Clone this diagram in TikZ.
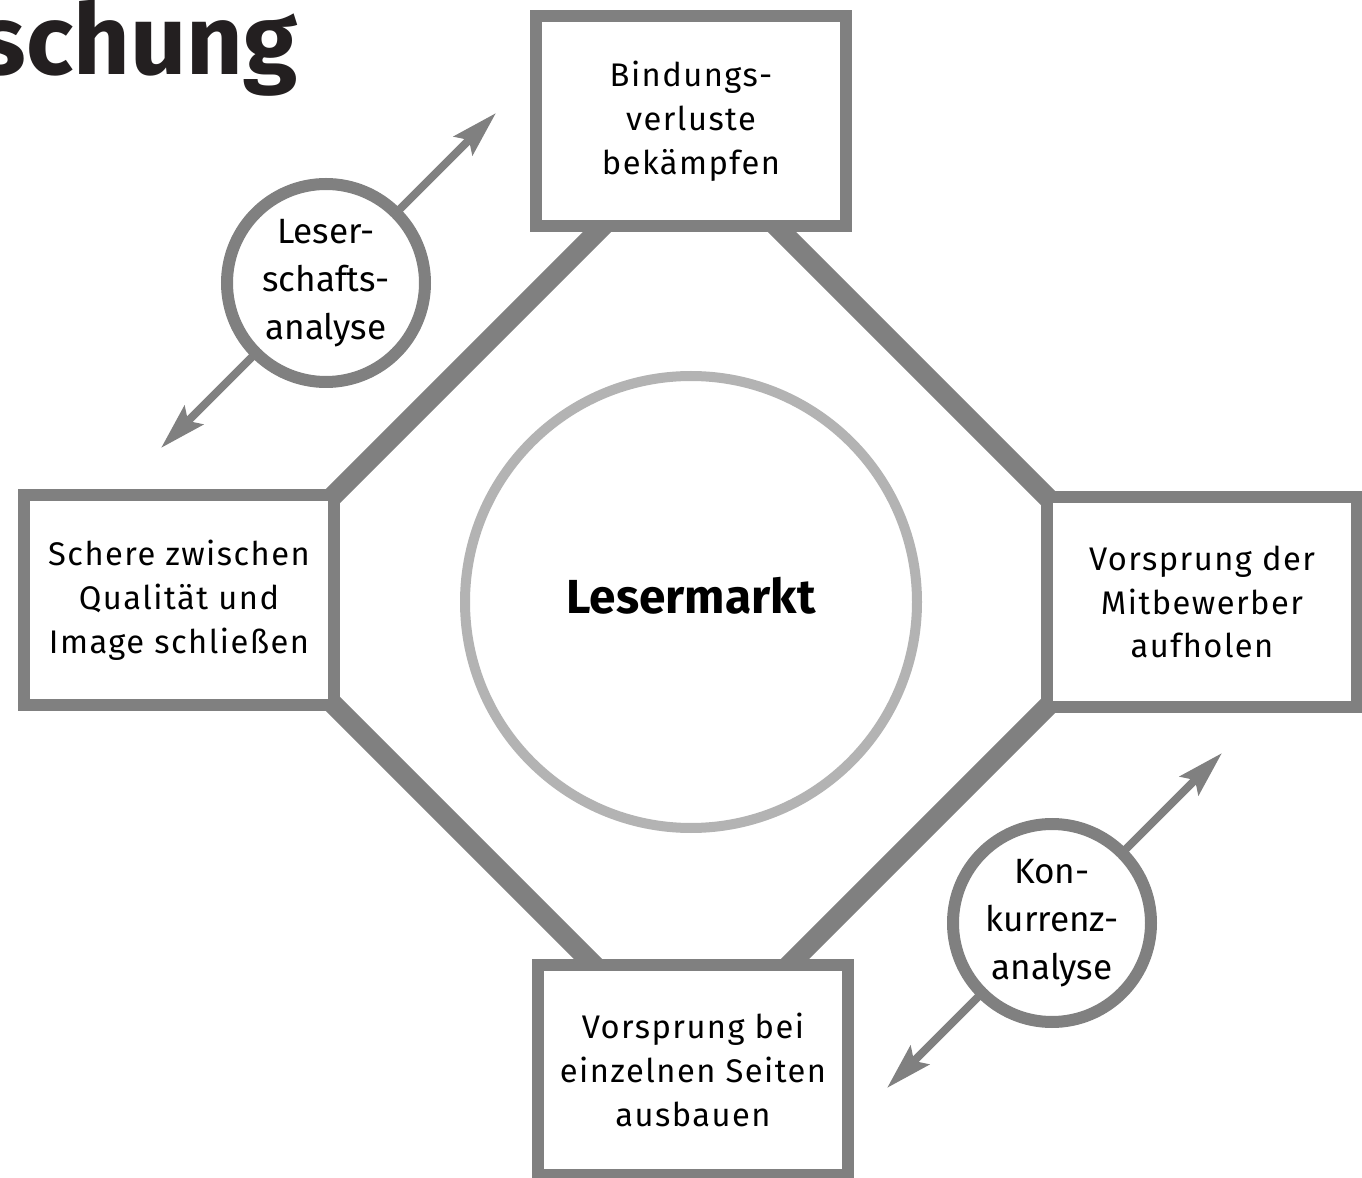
\documentclass[tikz,border=0pt]{standalone}
\usepackage{fontspec}
\setmainfont{Fira Sans}
\newfontfamily\spacedfont[LetterSpace=4.5]{Fira Sans}
\usepackage{tikz}
\usetikzlibrary{arrows.meta,calc,backgrounds}
\definecolor{ringgray}{HTML}{808080}
\definecolor{lightring}{HTML}{B3B3B3}
\definecolor{titleblack}{HTML}{231F20}

\begin{document}
\begin{tikzpicture}[
  goalbox/.style={draw=ringgray,line width=0.12cm,fill=white,minimum width=3.1cm,minimum height=2.1cm,
    align=center,inner sep=0pt,font=\spacedfont\fontsize{9.3}{12.5}\selectfont},
  toolcircle/.style={circle,draw=ringgray,line width=0.12cm,fill=white,minimum size=1.98cm,
    align=center,inner sep=0pt,font=\fontsize{10}{13.7}\selectfont},
  marketcircle/.style={circle,draw=lightring,line width=0.1cm,fill=white,minimum size=4.52cm,
    text depth=0.14cm,font=\fontsize{13.6}{16}\selectfont\bfseries},
  ringline/.style={ringgray,line width=0.2cm},
  biarrow/.style={ringgray,line width=0.08cm,{Stealth[length=4.6mm,width=2.6mm,inset=0.8mm]}-{Stealth[length=4.6mm,width=2.6mm,inset=0.8mm]}}
]
\clip (0,0) rectangle (13.62,11.77);
\node[anchor=base east,inner sep=0pt,text=titleblack,font=\fontsize{28}{30}\selectfont\bfseries] (title) at (2.98,11.02) {schung};

\node[marketcircle] (markt) at (6.91,5.75) {Lesermarkt};
\node[goalbox] (top) at (6.91,10.56) {Bindungs-\\verluste\\bekämpfen};
\node[goalbox] (left) at (1.79,5.77) {Schere zwischen\\Qualität und\\Image schließen};
\node[goalbox] (right) at (12.02,5.75) {Vorsprung der\\Mitbewerber\\aufholen};
\node[goalbox] (bottom) at (6.93,1.07) {Vorsprung bei\\einzelnen Seiten\\ausbauen};

\node[toolcircle] (leser) at (3.26,8.94) {Leser-\\schafts-\\analyse};
\node[toolcircle] (konk) at (10.52,2.54) {Kon-\\kurrenz-\\analyse};
\coordinate (leserA) at ($(leser)+(1.70,1.70)$);
\coordinate (leserB) at ($(leser)+(-1.65,-1.65)$);
\coordinate (konkA) at ($(konk)+(1.70,1.70)$);
\coordinate (konkB) at ($(konk)+(-1.65,-1.65)$);

\begin{scope}[on background layer]
\draw[ringline] ($(left.north east)+(-0.3,-0.3)$) -- ($(left.north east)+(3,3)$);
\draw[ringline] ($(right.north west)+(0.3,-0.3)$) -- ($(right.north west)+(-3,3)$);
\draw[ringline] ($(left.south east)+(-0.3,0.3)$) -- ($(left.south east)+(3,-3)$);
\draw[ringline] ($(right.south west)+(0.3,0.3)$) -- ($(right.south west)+(-3,-3)$);
\draw[biarrow] (leserB) -- (leserA);
\draw[biarrow] (konkB) -- (konkA);
\end{scope}
\end{tikzpicture}
\end{document}
